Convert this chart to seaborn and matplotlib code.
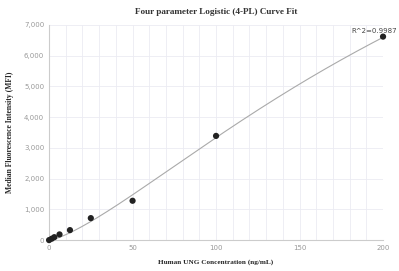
import numpy as np
import pandas as pd
import matplotlib
matplotlib.use("Agg")
import matplotlib.pyplot as plt
import seaborn as sns

# standard points
conc = [0, 1.5625, 3.125, 6.25, 12.5, 25, 50, 100, 200]
mfi = [0, 45, 95, 185, 325, 715, 1280, 3390, 6620]
r2_text = "R^2=0.9987"

# where the fitted curve passes
curve_x = [0, 12.5, 25, 50, 100, 150, 200]
curve_y = [0, 270, 560, 1466, 3390, 5016, 6620]

df = pd.DataFrame({"conc": conc, "mfi": mfi})


def logistic(x, b, c):
    return 1.0 / (1.0 + (c / np.maximum(x, 1e-9)) ** b)


# 4PL through the curve readings: grid over slope/midpoint, solve bottom/top
cx = np.array(curve_x, dtype=float)
cy = np.array(curve_y, dtype=float)
best = None
for b in np.linspace(1.0, 4.0, 121):
    for c in np.linspace(50, 3000, 300):
        g = logistic(cx, b, c)
        M = np.column_stack([1 - g, g])
        coef, *_ = np.linalg.lstsq(M, cy, rcond=None)
        err = np.sum((M @ coef - cy) ** 2)
        if best is None or err < best[0]:
            best = (err, b, c, coef)
_, B, C, (A, D) = best

xs = np.linspace(0, 200, 300)
gs = logistic(xs, B, C)
fit = pd.DataFrame({"conc": xs, "mfi": A * (1 - gs) + D * gs})

sns.set_style("white")
fig = plt.figure(figsize=(3.99, 2.71), dpi=100)
ax = fig.add_axes([0.123, 0.114, 0.837, 0.794])

sns.lineplot(data=fit, x="conc", y="mfi", ax=ax, color="#aaaaaa", lw=0.8)
sns.scatterplot(data=df, x="conc", y="mfi", ax=ax, color="#222222", s=20,
                edgecolor="none", zorder=5, clip_on=False)

ax.set_xlim(0, 200)
ax.set_ylim(0, 7000)
ax.set_xticks([0, 50, 100, 150, 200])
ax.set_xticks(np.arange(0, 201, 10), minor=True)
ax.set_yticks(np.arange(0, 7001, 1000))
ax.set_yticklabels([f"{v:,}" for v in range(0, 7001, 1000)])
ax.grid(True, which="both", axis="x", color="#ebebf3", lw=0.6)
ax.grid(True, which="major", axis="y", color="#ebebf3", lw=0.6)
ax.set_axisbelow(True)
ax.tick_params(axis="both", which="major", labelsize=5, colors="#999999",
               length=2, width=0.5, pad=1.5)
ax.tick_params(axis="x", which="minor", length=0)
for s in ["top", "right"]:
    ax.spines[s].set_visible(False)
for s in ["left", "bottom"]:
    ax.spines[s].set_color("#cccccc")
    ax.spines[s].set_linewidth(0.8)

serif = ["Liberation Serif", "DejaVu Serif"]
ax.set_title("Four parameter Logistic (4-PL) Curve Fit", fontsize=6.6,
             fontweight="bold", family=serif, color="#333333", pad=8)
ax.set_xlabel("Human UNG Concentration (ng/mL)", fontsize=5.2,
              fontweight="bold", family=serif, labelpad=6)
ax.set_ylabel("Median Fluorescence Intensity (MFI)", fontsize=5.5,
              fontweight="bold", family=serif, labelpad=7)

ax.annotate(r2_text, xy=(conc[-1], mfi[-1]), xytext=(10, 2),
            textcoords="offset points", ha="right", va="bottom",
            fontsize=5, color="#444444", annotation_clip=False)

fig.savefig("out.png", dpi=100)
